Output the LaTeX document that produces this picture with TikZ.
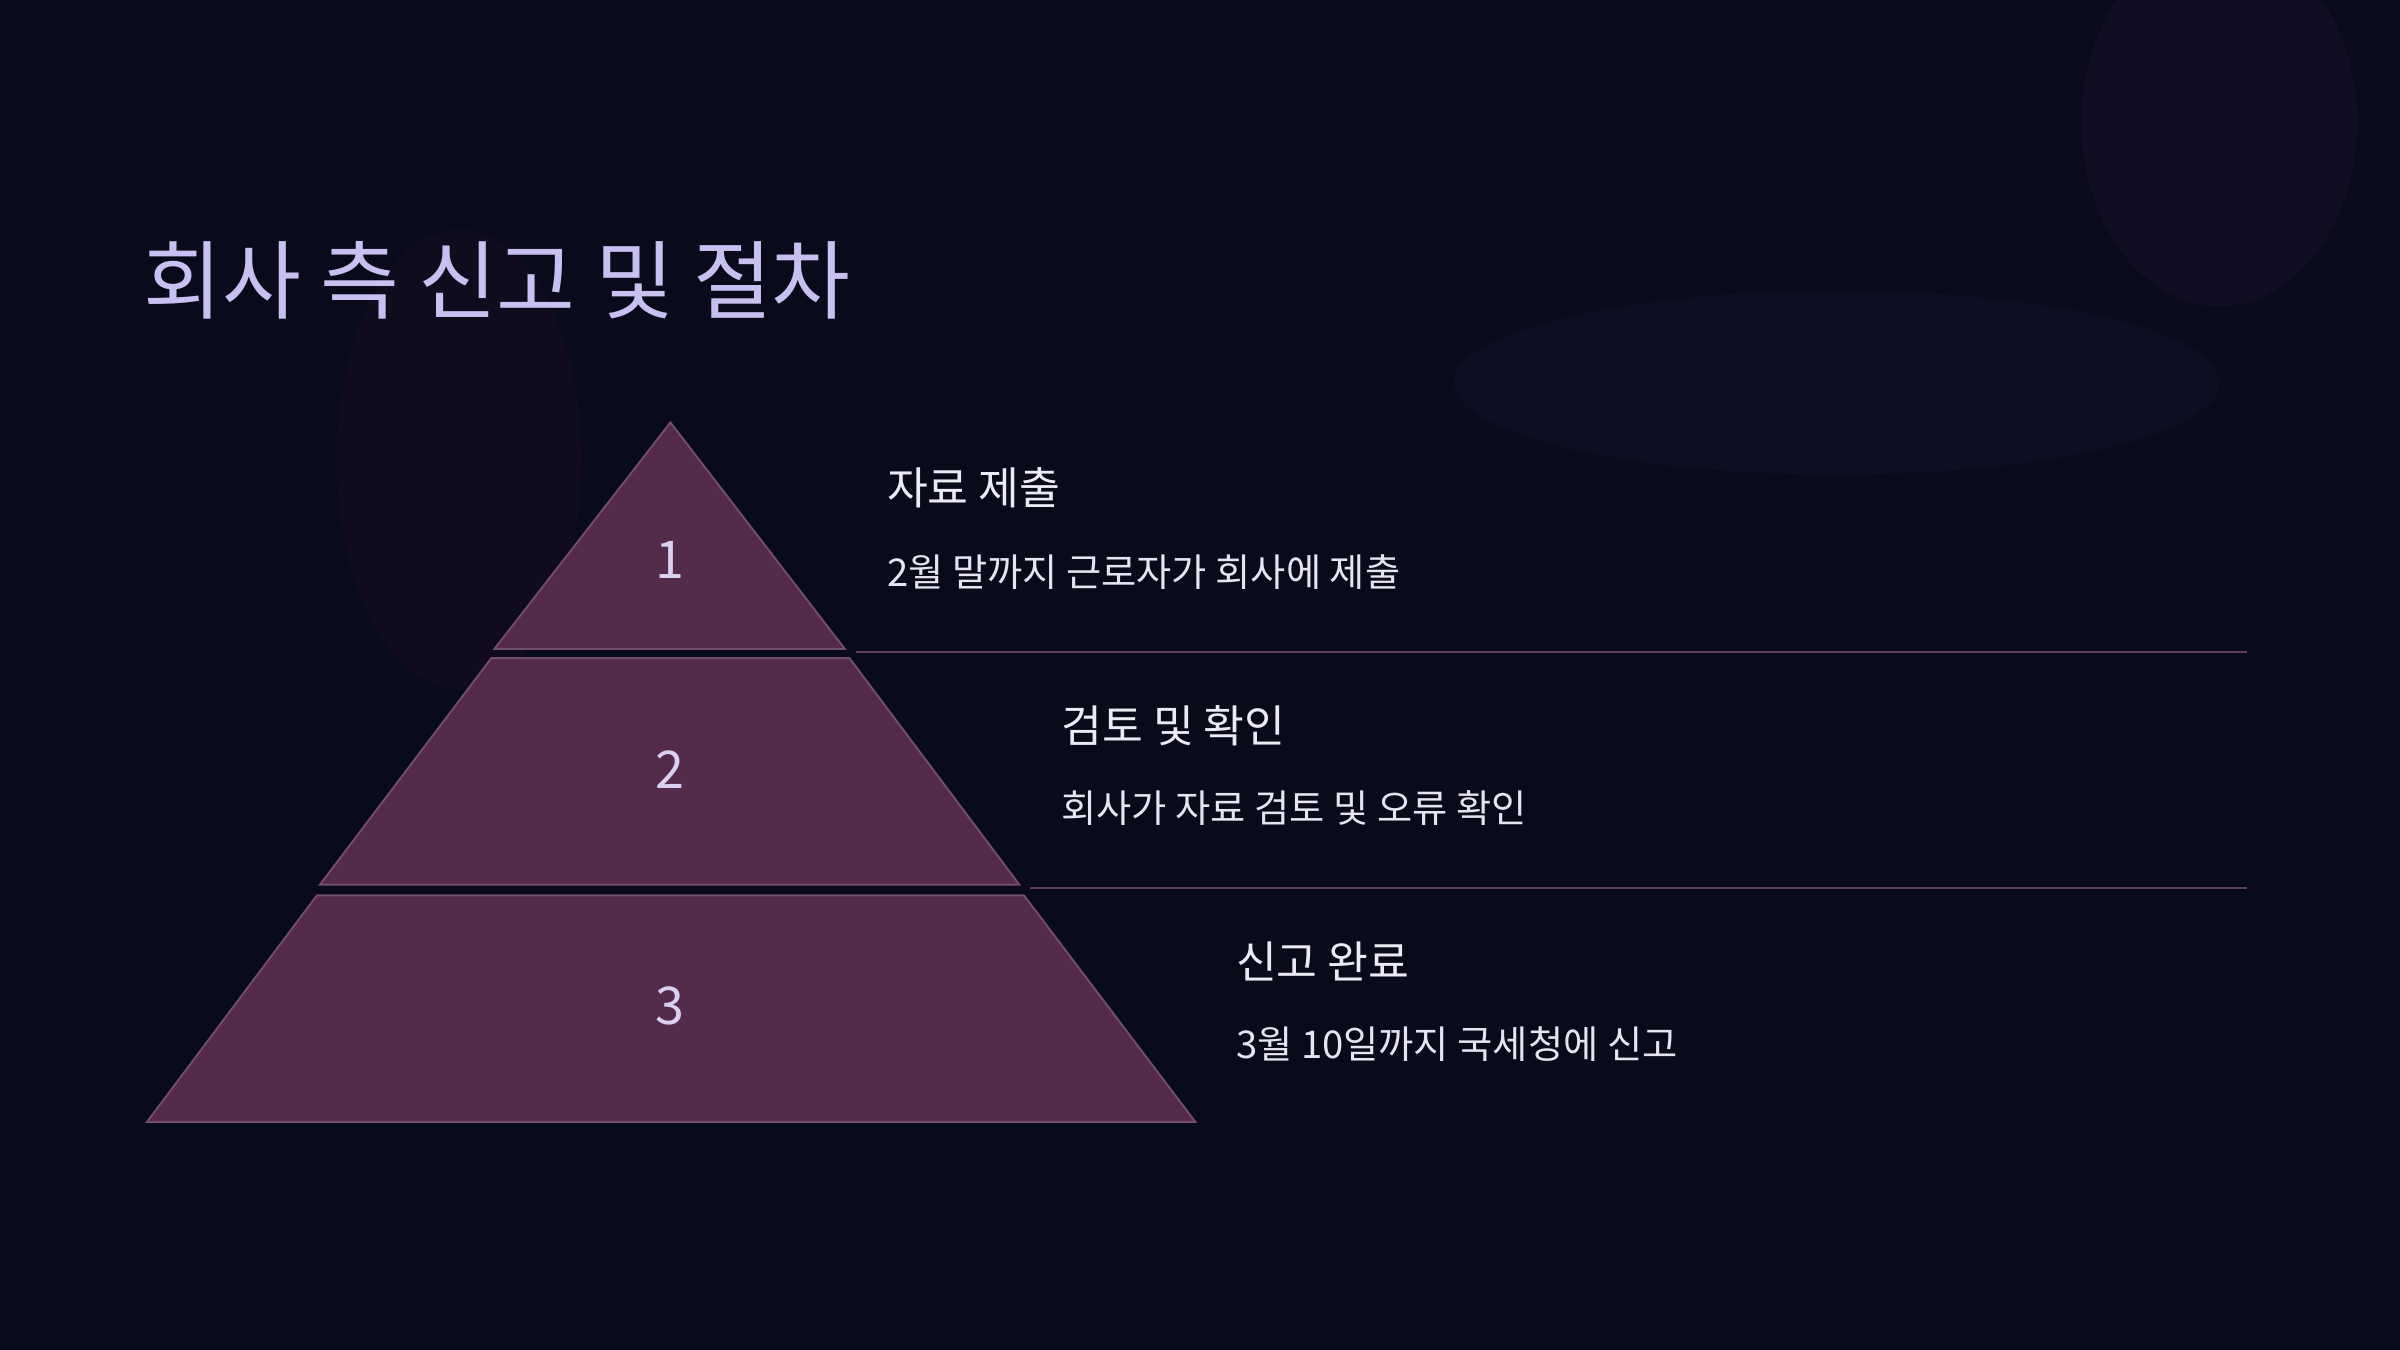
\documentclass[tikz,border=0pt]{standalone}
\usepackage{fontspec}
\setmainfont{Noto Sans CJK KR}
\definecolor{bg}{RGB}{10,11,26}
\definecolor{tierfill}{RGB}{85,43,74}
\definecolor{tierline}{RGB}{115,78,110}
\definecolor{numc}{RGB}{216,210,240}
\definecolor{headc}{RGB}{236,234,244}
\definecolor{descc}{RGB}{230,228,240}
\definecolor{sepc}{RGB}{95,62,95}
\definecolor{titlec}{RGB}{200,192,240}
\definecolor{glowa}{RGB}{60,30,80}
\definecolor{glowb}{RGB}{40,35,80}
\definecolor{glowc}{RGB}{60,25,60}
\begin{document}
\begin{tikzpicture}[x=1pt,y=-1pt,
  tier/.style={fill=tierfill,draw=tierline,line width=1.2pt},
  num/.style={text=numc,font=\fontsize{34}{40}\selectfont},
  head/.style={anchor=west,text=headc,font=\fontsize{29}{34}\selectfont},
  desc/.style={anchor=west,text=descc,font=\fontsize{25}{30}\selectfont},
  sep/.style={draw=sepc,line width=1.5pt}]
\fill[bg] (0,0) rectangle (1568,882);
\useasboundingbox (0,0) rectangle (1568,882);
\fill[glowa,opacity=0.15] (1450,80) ellipse (90 and 120);
\fill[glowb,opacity=0.15] (1200,250) ellipse (250 and 60);
\fill[glowc,opacity=0.12] (300,300) ellipse (80 and 150);
\node[anchor=west,text=titlec,font=\fontsize{56}{64}\selectfont] (title) at (90,183) {회사 측 신고 및 절차};
\path[tier] (438,276) -- (552,424) -- (323,424) -- cycle;
\path[tier] (321,430) -- (555,430) -- (666,578) -- (209,578) -- cycle;
\path[tier] (207,585) -- (669,585) -- (781,733) -- (96,733) -- cycle;
\node[num] (n1) at (438,366) {1};
\node[num] (n2) at (438,503) {2};
\node[num] (n3) at (438,657) {3};
\coordinate (a1) at (559,426); \coordinate (b1) at (1468,426);
\coordinate (a2) at (673,580); \coordinate (b2) at (1468,580);
\draw[sep] (a1) -- (b1);
\draw[sep] (a2) -- (b2);
\node[head] (h1) at (576,319) {자료 제출};
\node[desc] (d1) at (576,374) {2월 말까지 근로자가 회사에 제출};
\node[head] (h2) at (690,474) {검토 및 확인};
\node[desc] (d2) at (690,528) {회사가 자료 검토 및 오류 확인};
\node[head] (h3) at (804,628) {신고 완료};
\node[desc] (d3) at (804,682) {3월 10일까지 국세청에 신고};
\end{tikzpicture}
\end{document}
